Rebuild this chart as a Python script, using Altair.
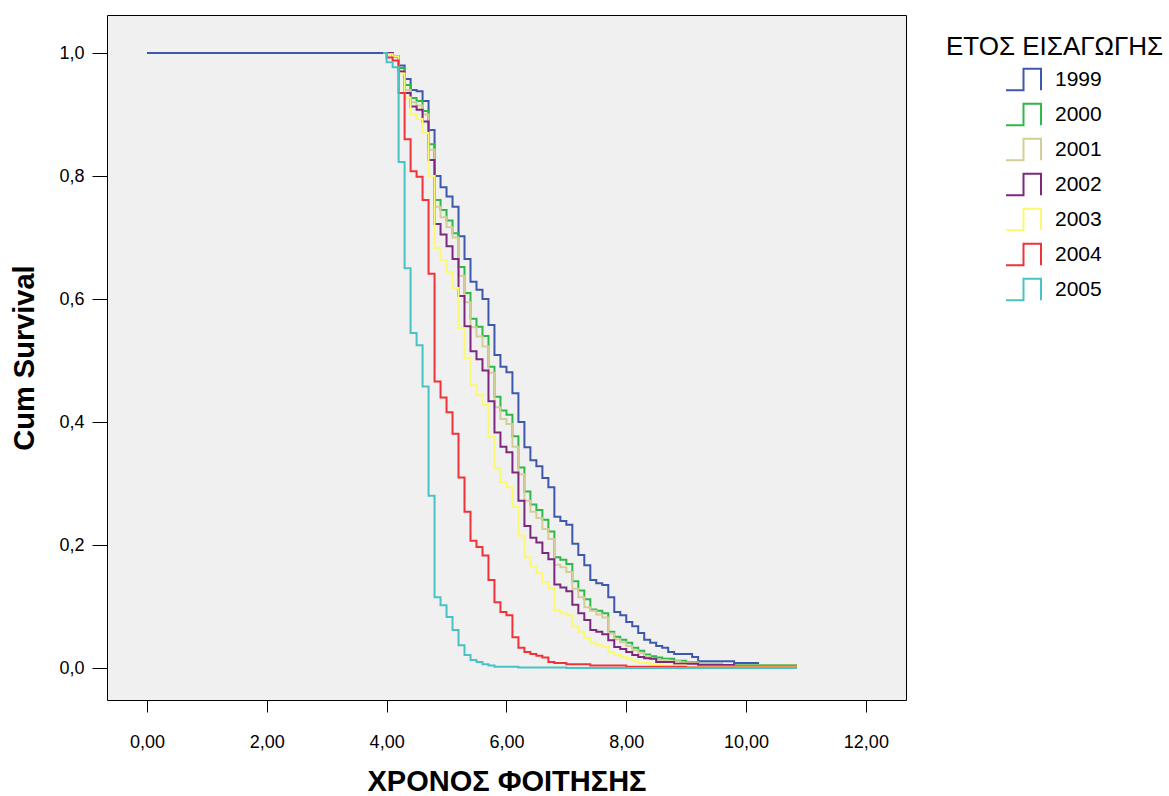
import altair as alt
import pandas as pd

years = ["1999", "2000", "2001", "2002", "2003", "2004", "2005"]
colors = ["#3E58AC", "#2EB848", "#D3CE97", "#7C287D", "#FBF873", "#EF3338", "#48C2C5"]

# (time, cumulative survival) step points
s1999 = [(0.0, 1.0), (4.1, 0.995), (4.2, 0.98), (4.3, 0.958), (4.4, 0.94), (4.5, 0.938), (4.6, 0.922),
         (4.7, 0.875), (4.8, 0.80), (4.9, 0.782), (5.0, 0.767), (5.1, 0.75), (5.2, 0.702), (5.3, 0.665),
         (5.4, 0.628), (5.5, 0.615), (5.6, 0.60), (5.7, 0.558), (5.8, 0.509), (5.9, 0.49), (6.0, 0.481),
         (6.1, 0.447), (6.2, 0.40), (6.3, 0.359), (6.4, 0.338), (6.5, 0.328), (6.6, 0.309), (6.7, 0.294),
         (6.8, 0.246), (6.9, 0.239), (7.0, 0.233), (7.1, 0.202), (7.2, 0.184), (7.3, 0.167), (7.4, 0.143),
         (7.5, 0.138), (7.6, 0.135), (7.7, 0.115), (7.8, 0.091), (7.9, 0.086), (8.0, 0.075), (8.1, 0.068),
         (8.2, 0.057), (8.3, 0.046), (8.4, 0.041), (8.5, 0.036), (8.6, 0.033), (8.7, 0.026), (8.8, 0.023),
         (9.1, 0.018), (9.2, 0.011), (9.8, 0.008), (10.2, 0.005), (10.85, 0.005)]
s2000 = [(3.95, 1.0), (4.1, 0.995), (4.2, 0.976), (4.3, 0.948), (4.4, 0.927), (4.5, 0.922), (4.6, 0.906),
         (4.7, 0.852), (4.8, 0.761), (4.9, 0.745), (5.0, 0.728), (5.1, 0.707), (5.2, 0.652), (5.3, 0.61),
         (5.4, 0.568), (5.5, 0.555), (5.6, 0.54), (5.7, 0.49), (5.8, 0.441), (5.9, 0.419), (6.0, 0.412),
         (6.1, 0.377), (6.2, 0.326), (6.3, 0.287), (6.4, 0.266), (6.5, 0.257), (6.6, 0.241), (6.7, 0.222),
         (6.8, 0.18), (6.9, 0.176), (7.0, 0.169), (7.1, 0.141), (7.2, 0.126), (7.3, 0.112), (7.4, 0.095),
         (7.5, 0.093), (7.6, 0.089), (7.7, 0.059), (7.8, 0.051), (7.9, 0.046), (8.0, 0.041), (8.1, 0.033),
         (8.2, 0.028), (8.3, 0.022), (8.4, 0.019), (8.5, 0.017), (8.6, 0.015), (8.8, 0.012), (9.0, 0.01),
         (9.2, 0.007), (9.6, 0.005), (10.85, 0.005)]
s2001 = [(3.95, 1.0), (4.0, 0.998), (4.1, 0.995), (4.2, 0.97), (4.3, 0.94), (4.4, 0.92), (4.5, 0.915),
         (4.6, 0.90), (4.7, 0.843), (4.8, 0.75), (4.9, 0.733), (5.0, 0.717), (5.1, 0.70), (5.2, 0.638),
         (5.3, 0.595), (5.4, 0.554), (5.5, 0.539), (5.6, 0.523), (5.7, 0.48), (5.8, 0.424), (5.9, 0.405),
         (6.0, 0.397), (6.1, 0.36), (6.2, 0.315), (6.3, 0.272), (6.4, 0.254), (6.5, 0.244), (6.6, 0.226),
         (6.7, 0.21), (6.8, 0.168), (6.9, 0.164), (7.0, 0.156), (7.1, 0.129), (7.2, 0.115), (7.3, 0.099),
         (7.4, 0.093), (7.5, 0.087), (7.6, 0.082), (7.7, 0.056), (7.8, 0.047), (7.9, 0.042), (8.0, 0.036),
         (8.1, 0.029), (8.2, 0.024), (8.3, 0.019), (8.4, 0.016), (8.5, 0.013), (8.7, 0.011), (8.9, 0.009),
         (9.2, 0.006), (9.6, 0.004), (10.85, 0.004)]
s2002 = [(3.95, 1.0), (4.1, 0.995), (4.2, 0.97), (4.3, 0.935), (4.4, 0.913), (4.5, 0.908), (4.6, 0.889),
         (4.7, 0.826), (4.8, 0.722), (4.9, 0.705), (5.0, 0.686), (5.1, 0.665), (5.2, 0.605), (5.3, 0.556),
         (5.4, 0.515), (5.5, 0.502), (5.6, 0.484), (5.7, 0.434), (5.8, 0.383), (5.9, 0.36), (6.0, 0.351),
         (6.1, 0.318), (6.2, 0.272), (6.3, 0.231), (6.4, 0.212), (6.5, 0.204), (6.6, 0.187), (6.7, 0.177),
         (6.8, 0.136), (6.9, 0.131), (7.0, 0.125), (7.1, 0.103), (7.2, 0.089), (7.3, 0.078), (7.4, 0.062),
         (7.5, 0.059), (7.6, 0.055), (7.7, 0.045), (7.8, 0.034), (7.9, 0.031), (8.0, 0.026), (8.1, 0.021),
         (8.2, 0.018), (8.3, 0.016), (8.4, 0.015), (8.5, 0.01), (8.8, 0.007), (9.2, 0.005), (9.8, 0.003),
         (10.85, 0.003)]
s2003 = [(3.95, 1.0), (4.0, 0.998), (4.1, 0.995), (4.2, 0.967), (4.3, 0.928), (4.4, 0.90), (4.5, 0.893),
         (4.6, 0.87), (4.7, 0.80), (4.8, 0.683), (4.9, 0.663), (5.0, 0.644), (5.1, 0.618), (5.2, 0.553),
         (5.3, 0.504), (5.4, 0.46), (5.5, 0.444), (5.6, 0.428), (5.7, 0.376), (5.8, 0.325), (5.9, 0.302),
         (6.0, 0.294), (6.1, 0.262), (6.2, 0.215), (6.3, 0.18), (6.4, 0.165), (6.5, 0.154), (6.6, 0.14),
         (6.7, 0.13), (6.8, 0.094), (6.9, 0.089), (7.0, 0.086), (7.1, 0.068), (7.2, 0.059), (7.3, 0.049),
         (7.4, 0.041), (7.5, 0.037), (7.6, 0.034), (7.7, 0.026), (7.8, 0.021), (7.9, 0.018), (8.0, 0.015),
         (8.1, 0.011), (8.2, 0.008), (8.4, 0.006), (8.6, 0.004), (9.0, 0.002), (10.85, 0.002)]
s2004 = [(3.95, 1.0), (4.0, 0.993), (4.1, 0.988), (4.2, 0.935), (4.3, 0.86), (4.4, 0.808), (4.5, 0.799),
         (4.6, 0.761), (4.7, 0.641), (4.8, 0.466), (4.9, 0.44), (5.0, 0.416), (5.1, 0.381), (5.2, 0.31),
         (5.3, 0.254), (5.4, 0.207), (5.5, 0.197), (5.6, 0.183), (5.7, 0.143), (5.8, 0.107), (5.9, 0.091),
         (6.0, 0.086), (6.1, 0.05), (6.2, 0.033), (6.3, 0.026), (6.4, 0.023), (6.5, 0.02), (6.6, 0.017),
         (6.7, 0.01), (6.8, 0.008), (7.0, 0.006), (7.4, 0.004), (8.0, 0.002), (9.0, 0.001), (10.85, 0.001)]
s2005 = [(3.95, 1.0), (4.0, 0.985), (4.1, 0.977), (4.2, 0.823), (4.3, 0.65), (4.4, 0.545), (4.5, 0.525),
         (4.6, 0.458), (4.7, 0.28), (4.8, 0.115), (4.9, 0.102), (5.0, 0.083), (5.1, 0.062), (5.2, 0.037),
         (5.3, 0.021), (5.4, 0.013), (5.5, 0.01), (5.6, 0.006), (5.7, 0.004), (5.8, 0.002), (6.2, 0.001),
         (7.0, 0.0), (10.85, 0.0)]

series = [s1999, s2000, s2001, s2002, s2003, s2004, s2005]
x_ticks = [0, 2, 4, 6, 8, 10, 12]
y_ticks = [0.0, 0.2, 0.4, 0.6, 0.8, 1.0]

rows = []
for yr, pts in zip(years, series):
    for i, (t, s) in enumerate(pts):
        rows.append({"year": yr, "t": t, "s": s, "ord": i})
df = pd.DataFrame(rows)

FONT = "Liberation Sans, Arial, sans-serif"

chart = alt.Chart(df).mark_line(interpolate="step-after", strokeWidth=2).encode(
    x=alt.X("t:Q",
            scale=alt.Scale(domain=[-0.668, 12.67], nice=False, zero=False),
            axis=alt.Axis(values=x_ticks, title="ΧΡΟΝΟΣ ΦΟΙΤΗΣΗΣ",
                          labelExpr="replace(format(datum.value, '.2f'), '.', ',')",
                          grid=False, domain=False, tickSize=12, tickColor="black", tickWidth=1,
                          labelFontSize=18, labelPadding=21, labelColor="black", labelFont=FONT,
                          titleFontSize=29, titleFont=FONT, titleFontWeight="bold", titleColor="black",
                          titlePadding=16)),
    y=alt.Y("s:Q",
            scale=alt.Scale(domain=[-0.052, 1.062], nice=False, zero=False),
            axis=alt.Axis(values=y_ticks, title="Cum Survival",
                          labelExpr="replace(format(datum.value, '.1f'), '.', ',')",
                          grid=False, domain=False, tickSize=15, tickColor="black", tickWidth=1,
                          labelFontSize=18, labelPadding=8, labelColor="black", labelFont=FONT,
                          titleFontSize=29, titleFont=FONT, titleFontWeight="bold", titleColor="black",
                          titlePadding=19)),
    color=alt.Color("year:N",
                    scale=alt.Scale(domain=years, range=colors),
                    legend=alt.Legend(orient="none", legendX=839, legendY=19,
                                      title="ΕΤΟΣ ΕΙΣΑΓΩΓΗΣ", titleFontSize=26, titleFontWeight="normal",
                                      titleFont=FONT, titleColor="black", titlePadding=1, titleLimit=500,
                                      labelFontSize=21, labelFont=FONT, labelColor="black", labelLimit=200,
                                      symbolType="M-1,0.62H0V-0.62H1V0.62", symbolSize=1225,
                                      symbolStrokeWidth=2, symbolFillColor="transparent",
                                      symbolOffset=59, labelOffset=13, rowPadding=1, padding=0)),
    order="ord:Q",
).properties(
    width=799, height=685,
    background="white",
    autosize=alt.AutoSizeParams(type="none"),
    padding={"left": 107, "top": 15, "right": 263, "bottom": 96},
).configure_view(
    fill="#f0f0f0", stroke="black", strokeWidth=1
)

chart.save("out.html", embed_options={"renderer": "svg", "actions": False})
